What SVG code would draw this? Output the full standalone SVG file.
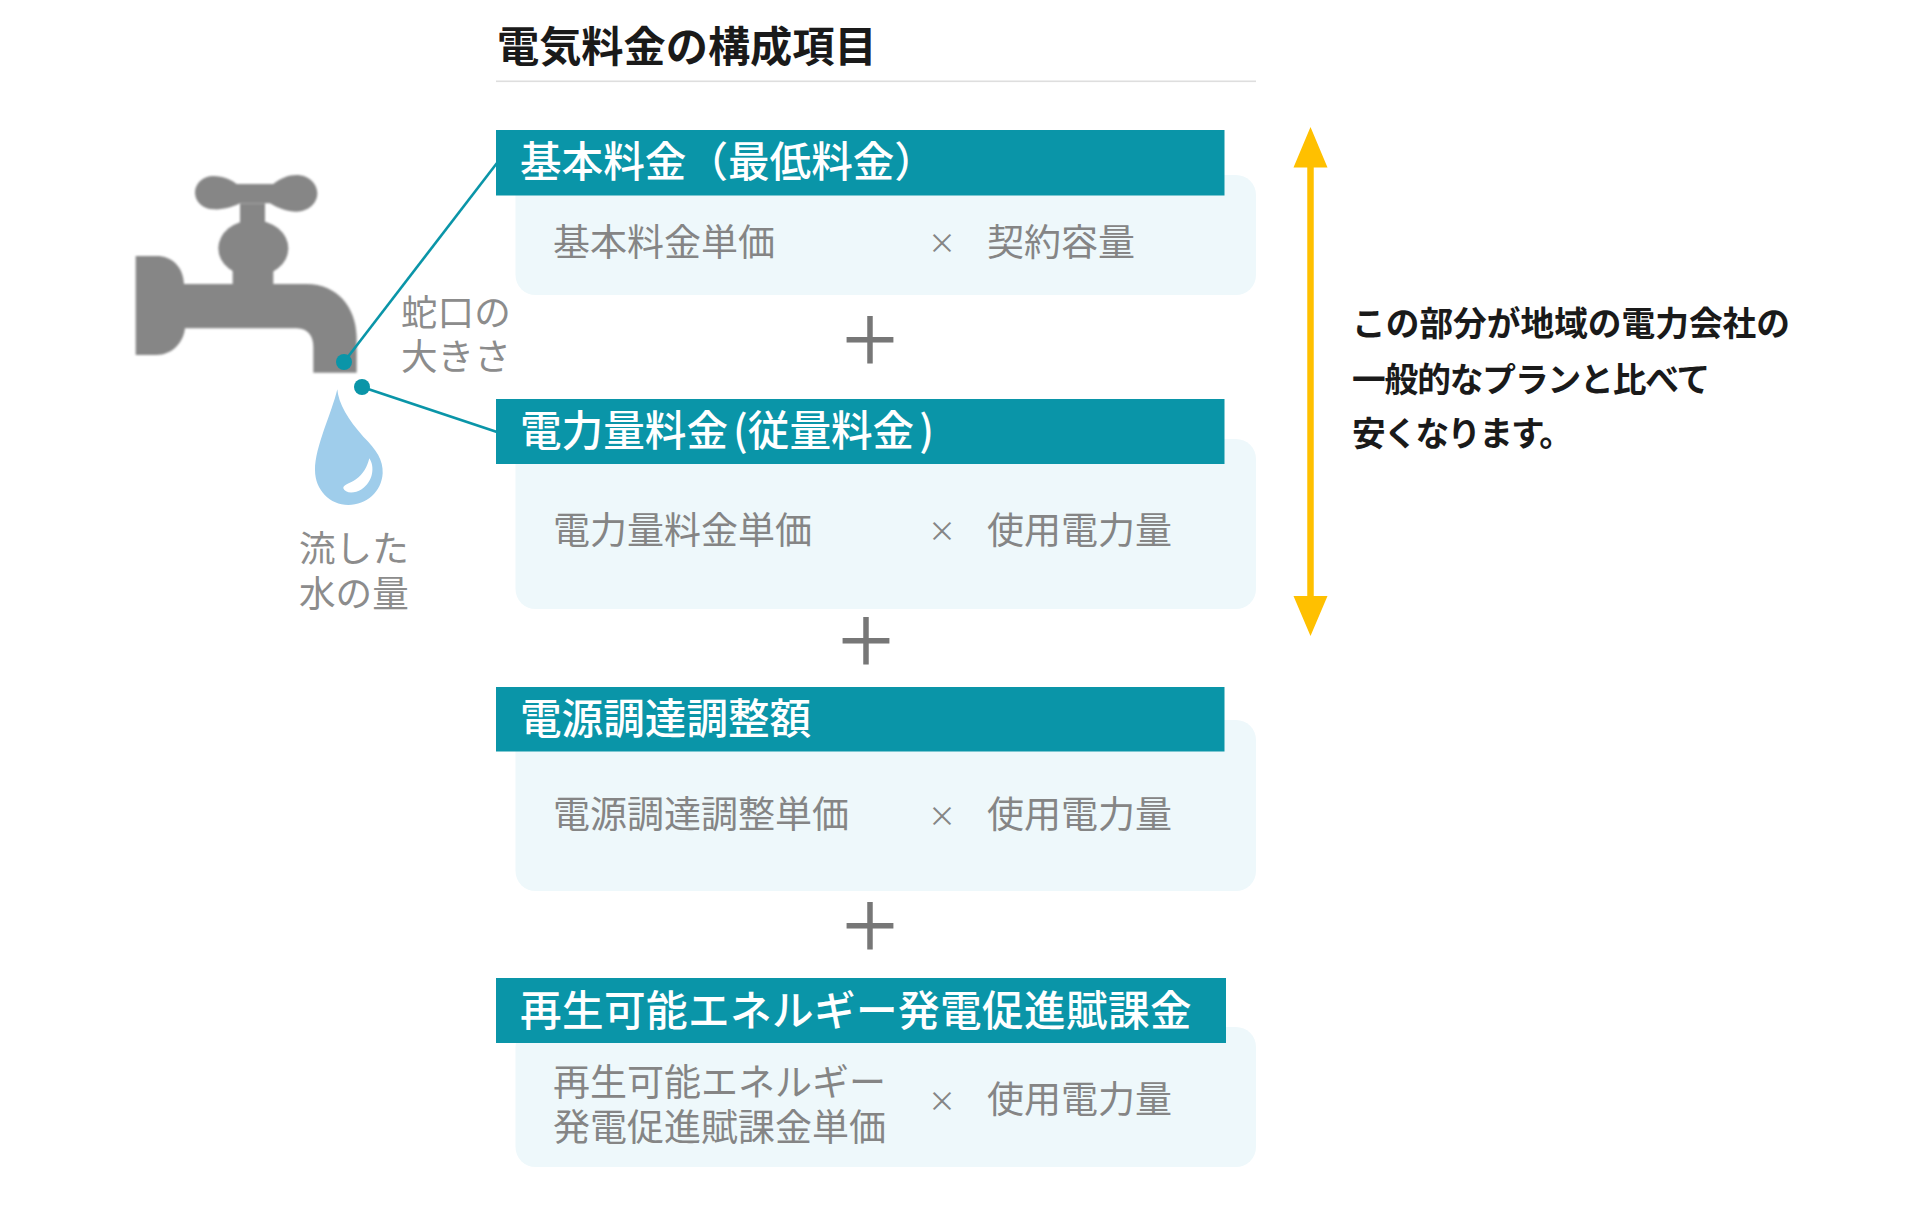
<svg xmlns="http://www.w3.org/2000/svg" width="1920" height="1211" viewBox="0 0 1920 1211">
<style>
text{font-family:"Noto Sans CJK JP","Noto Sans CJK SC",sans-serif}
.title{font-size:42.2px;font-weight:700;fill:#1a1a1a}
.head{fill:#0a95a8}
.panel{fill:#eef8fb}
.ht{font-size:41.6px;font-weight:500;fill:#fff}
.bt{font-size:37px;font-weight:400;fill:#858585}
.x{font-size:28px;font-weight:400;fill:#858585;text-anchor:middle}
.lab{font-size:36.6px;font-weight:400;fill:#8c8c8c}
.note{font-size:33.7px;font-weight:700;fill:#1a1a1a}
.plus{font-size:65px;font-weight:500;fill:#777;text-anchor:middle}
.con{stroke:#0a95a8;stroke-width:2.6;fill:none}
.dot{fill:#0a95a8}
</style>
<defs>
<filter id="soft" x="-5%" y="-5%" width="110%" height="110%"><feGaussianBlur stdDeviation="2.400"/></filter>
</defs>
<rect width="1920" height="1211" fill="#fff"/>
<g id="title">
<text class="title" x="497" y="62">電気料金の構成項目</text>
<rect x="496" y="80.500" width="760" height="1.600" fill="#dedede"/>
</g>
<g id="faucet" transform="translate(100 120) scale(.33333)" fill="#868686" filter="url(#soft)">
<path d="M107 408H170C215 408 250 440 252 492H398V450H520V492H620C710 492 768 560 770 650V758H640V680C640 650 625 625 590 625H255C250 670 215 705 170 705H107Z"/>
<ellipse cx="460" cy="385" rx="105" ry="85"/>
<rect x="420" y="250" width="75" height="80"/>
<path d="M340 168C370 168 395 180 410 192H520C540 175 565 165 590 165C625 165 652 190 652 220C652 250 625 275 590 275C560 275 535 265 510 250H420C400 260 370 270 340 268C310 268 285 245 285 218C285 190 310 168 340 168Z"/>
</g>
<g id="drop" transform="translate(100 120) scale(.33333)">
<path fill="#9fcdeb" d="M712 808C715 850 745 900 790 950C830 990 850 1020 848 1060C845 1115 800 1155 745 1155C690 1155 645 1110 645 1050C645 980 695 880 712 808Z"/>
<path fill="#fff" d="M808 1015C825 1040 820 1085 785 1108C762 1122 735 1120 730 1105C728 1095 750 1090 768 1078C790 1062 802 1040 808 1015Z"/>
</g>
<g id="label-faucet">
<text class="lab" x="401" y="326">蛇口の</text>
<text class="lab" x="401" y="370">大きさ</text>
</g>
<g id="label-water">
<text class="lab" x="299" y="562">流した</text>
<text class="lab" x="299" y="607">水の量</text>
</g>
<g id="block1">
<rect class="panel" x="515.500" y="175" width="740.500" height="120" rx="20"/>
<rect class="head" x="496" y="130" width="728.500" height="65.500"/>
<text class="ht" x="520" y="177">基本料金（最低料金）</text>
<text class="bt" x="553" y="256">基本料金単価</text>
<text class="x" x="942" y="254">×</text>
<text class="bt" x="987" y="256">契約容量</text>
</g>
<text class="plus" id="plus1" x="870" y="364">＋</text>
<g id="block2">
<rect class="panel" x="515.500" y="439" width="740.500" height="170" rx="20"/>
<rect class="head" x="496" y="399" width="728.500" height="65"/>
<text class="ht" x="520" y="446">電力量料金<tspan dx="5">(</tspan><tspan dx="0">従量料金</tspan><tspan dx="5">)</tspan></text>
<text class="bt" x="553" y="544">電力量料金単価</text>
<text class="x" x="942" y="542">×</text>
<text class="bt" x="987" y="544">使用電力量</text>
</g>
<text class="plus" id="plus2" x="866" y="665">＋</text>
<g id="block3">
<rect class="panel" x="515.500" y="720" width="740.500" height="171" rx="20"/>
<rect class="head" x="496" y="687" width="728.500" height="64.500"/>
<text class="ht" x="520" y="734">電源調達調整額</text>
<text class="bt" x="553" y="828">電源調達調整単価</text>
<text class="x" x="942" y="827">×</text>
<text class="bt" x="987" y="828">使用電力量</text>
</g>
<text class="plus" id="plus3" x="870" y="950">＋</text>
<g id="block4">
<rect class="panel" x="515.500" y="1027" width="740.500" height="140" rx="20"/>
<rect class="head" x="496" y="978" width="730" height="65"/>
<text class="ht" x="520" y="1026" letter-spacing=".4">再生可能エネルギー発電促進賦課金</text>
<text class="bt" x="553" y="1096">再生可能エネルギー</text>
<text class="bt" x="553" y="1141">発電促進賦課金単価</text>
<text class="x" x="942" y="1112">×</text>
<text class="bt" x="987" y="1113">使用電力量</text>
</g>
<g id="connectors">
<path class="con" d="M344 362L497 163"/>
<circle class="dot" cx="344" cy="362" r="8"/>
<path class="con" d="M362 387L497 432"/>
<circle class="dot" cx="362" cy="387" r="8"/>
<path d="M1310.500 165V598" stroke="#ffc000" stroke-width="6.500" fill="none"/>
<path d="M1310.500 127L1327.500 167.500H1293.500Z M1310.500 636L1327.500 596H1293.500Z" fill="#ffc000"/>
</g>
<g id="note">
<text class="note" x="1352" y="336">この部分が地域の電力会社の</text>
<text class="note" x="1352" y="392" letter-spacing="-1.100">一般的なプランと比べて</text>
<text class="note" x="1352" y="446" letter-spacing="-1.900">安くなります。</text>
</g>
</svg>
